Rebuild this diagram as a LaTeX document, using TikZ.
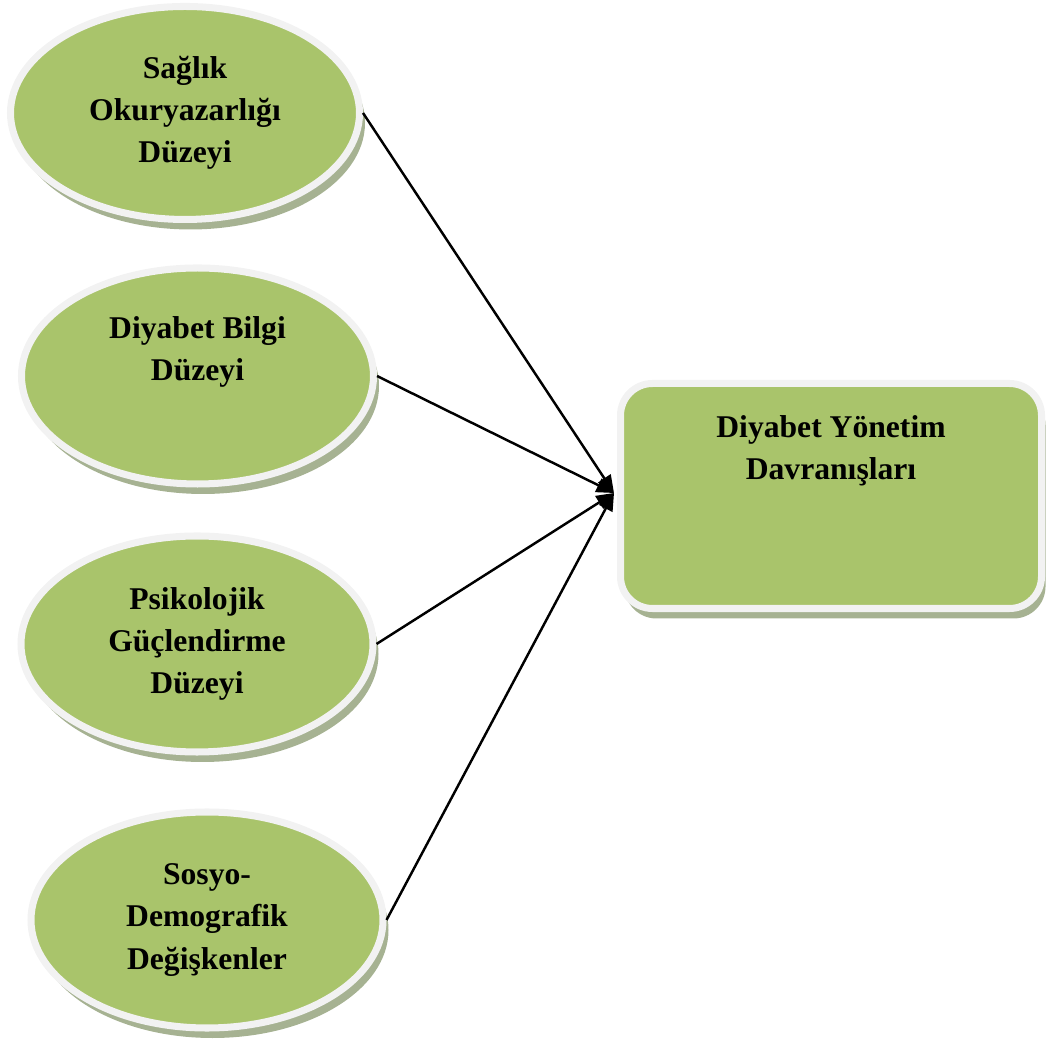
\documentclass[tikz,border=0pt]{standalone}
\usepackage{fontspec}
\setmainfont{Liberation Serif}
\usetikzlibrary{arrows.meta,shapes.geometric,shadows}
\definecolor{leaf}{RGB}{169,196,107}
\definecolor{rim}{RGB}{242,242,242}
\definecolor{shade}{RGB}{166,178,146}

\begin{document}
\begin{tikzpicture}[
  font=\fontsize{9}{12}\selectfont\bfseries,
  blob/.style={ellipse,fill=leaf,draw=rim,line width=2pt,align=center,inner sep=0pt,
    minimum width=3.52cm,minimum height=2.16cm,
    drop shadow={shadow xshift=0.055cm,shadow yshift=-0.1cm,fill=shade,opacity=1}},
  goal/.style={rectangle,rounded corners=0.32cm,fill=leaf,draw=rim,line width=2pt,align=center,
    minimum width=4.21cm,minimum height=2.25cm,
    drop shadow={shadow xshift=0.04cm,shadow yshift=-0.1cm,fill=shade,opacity=1}},
  link/.style={-{Triangle[length=5pt,width=4.2pt]},line width=0.7pt}
]
  \useasboundingbox (0,0) rectangle (10.46,10.43);
  \node[blob,minimum width=3.49cm,minimum height=2.13cm] (sag) at (1.85,9.30) {Sağlık\\Okuryazarlığı\\Düzeyi};
  \node[blob] (bil) at (1.975,6.67) {Diyabet Bilgi\\Düzeyi\\\strut};
  \node[blob] (psi) at (1.97,3.99) {Psikolojik\\Güçlendirme\\Düzeyi};
  \node[blob] (sos) at (2.07,1.23) {Sosyo-\\Demografik\\Değişkenler};
  \node[goal] (dyb) at (8.31,5.47) {Diyabet Yönetim\\Davranışları\\\strut\\\strut};
  \coordinate (tip) at (6.14,5.50);
  \foreach \n in {sag,bil,psi,sos}{\draw[link] (\n.east) -- (tip);}
\end{tikzpicture}
\end{document}
